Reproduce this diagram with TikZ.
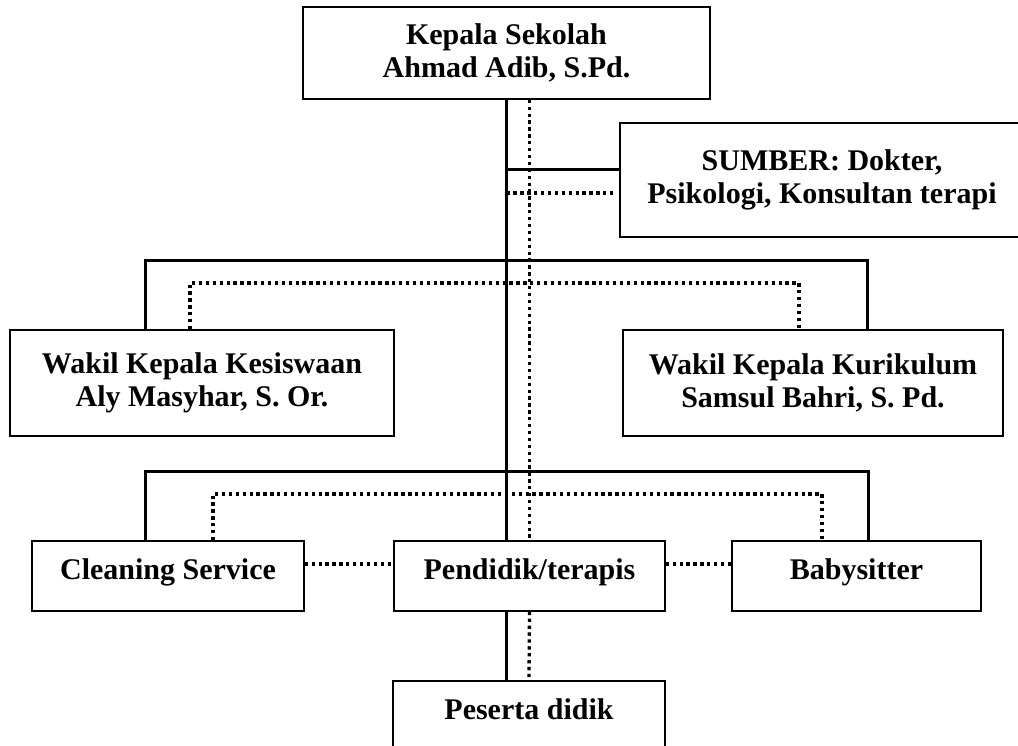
\documentclass[tikz,border=0pt]{standalone}
\usepackage{fontspec}
\setmainfont{Liberation Serif}

\begin{document}
\begin{tikzpicture}[x=1pt,y=-1pt,
  every node/.style={draw=black,fill=white,line width=1.5pt,align=center,inner sep=0pt,
    font=\bfseries\fontsize{30}{33}\selectfont},
  satu/.style={minimum height=70pt,text depth=13pt},
  garis/.style={line width=3pt},
  titik/.style={line width=3.3pt,dash pattern=on 3.3pt off 3.6pt}]
\useasboundingbox (0,0) rectangle (1018,746);
\node[minimum width=407pt,minimum height=92pt] (kepala) at (506.5,53) {Kepala Sekolah\\Ahmad Adib, S.Pd.};
\node[minimum width=404pt,minimum height=114pt] (sumber) at (822,180) {SUMBER: Dokter,\\Psikologi, Konsultan terapi};
\node[minimum width=384pt,minimum height=106pt] (kesiswaan) at (202,383) {Wakil Kepala Kesiswaan\\Aly Masyhar, S. Or.};
\node[minimum width=380pt,minimum height=106pt] (kurikulum) at (813,383) {Wakil Kepala Kurikulum\\Samsul Bahri, S. Pd.};
\node[satu,minimum width=272pt] (cleaning) at (168,576) {Cleaning Service};
\node[satu,minimum width=271pt] (pendidik) at (529.5,576) {Pendidik/terapis};
\node[satu,minimum width=249pt] (babysitter) at (856.5,576) {Babysitter};
\node[satu,minimum width=272pt] (peserta) at (529,716) {Peserta didik};

\coordinate (s1) at ([yshift=10pt]sumber.west);
\coordinate (s2) at ([yshift=-13pt]sumber.west);
\coordinate (a1) at (145,261);
\coordinate (a2) at (867,261);
\coordinate (a3) at (190,283);
\coordinate (a4) at (799,283);
\coordinate (b1) at (145,471);
\coordinate (b2) at (868,471);
\coordinate (b3) at (213,494);
\coordinate (b4) at (822,494);

\draw[garis] (kepala.south) -- (kepala.south |- pendidik.north);
\draw[garis] (kepala.south |- pendidik.south) -- (kepala.south |- peserta.north);
\draw[titik] (pendidik.north |- kepala.south) -- (pendidik.north);
\draw[titik] (pendidik.south) -- (peserta.north);
\draw[garis] (s1 -| kepala.south) -- (s1);
\draw[titik] (s2 -| kepala.south) -- ([xshift=-5pt]s2);
\draw[garis] (a1 |- kesiswaan.north) -- (a1) -- (a2) -- (a2 |- kurikulum.north);
\draw[titik] (a3 |- kesiswaan.north) -- (a3) -- (a4) -- (a4 |- kurikulum.north);
\draw[garis] (b1 |- cleaning.north) -- (b1) -- (b2) -- (b2 |- babysitter.north);
\draw[titik] (b3 |- cleaning.north) -- (b3) -- (b4) -- (b4 |- babysitter.north);
\draw[titik] ([yshift=12pt]cleaning.east) -- ([yshift=12pt]pendidik.west);
\draw[titik] ([yshift=12pt]pendidik.east) -- ([yshift=12pt]babysitter.west);
\end{tikzpicture}
\end{document}
